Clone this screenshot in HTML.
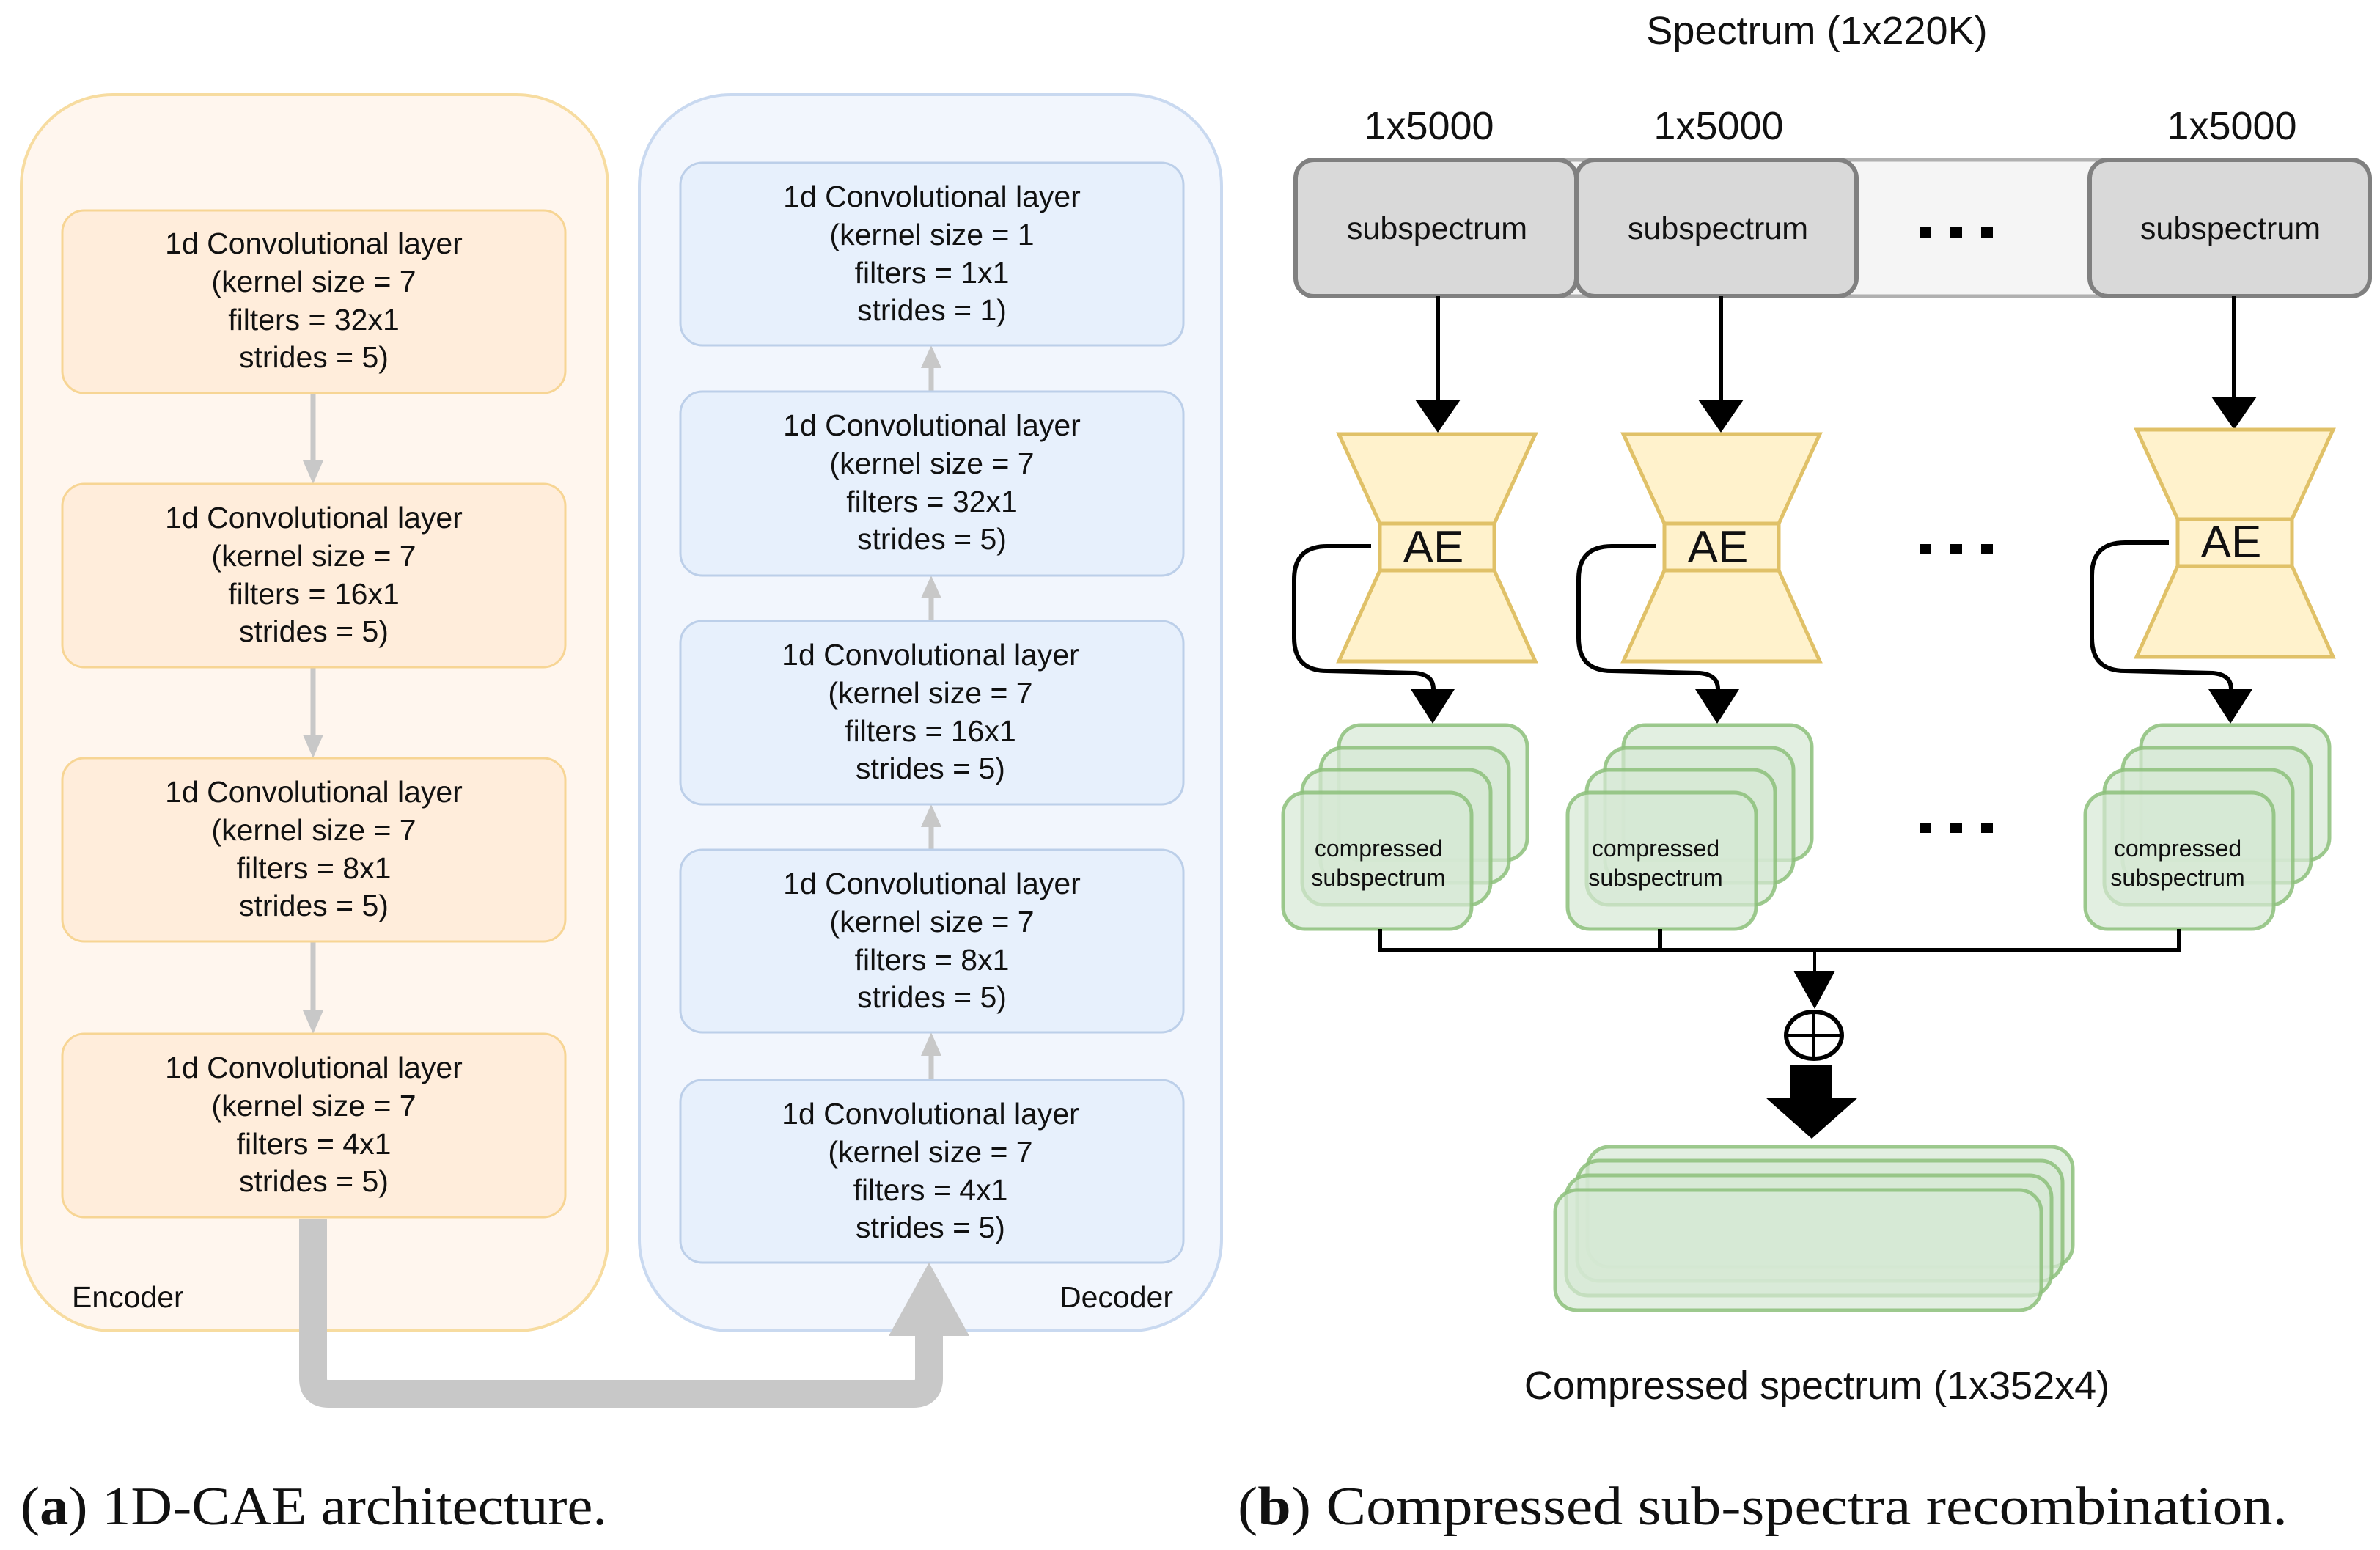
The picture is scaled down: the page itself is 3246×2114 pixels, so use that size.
<!DOCTYPE html>
<html><head><meta charset="utf-8"><style>
html,body{margin:0;padding:0;background:#fff}
svg{display:block}
text{font-family:"Liberation Sans",sans-serif;fill:#111}
text.serif{font-family:"Liberation Serif",serif}
</style></head><body>
<svg width="3246" height="2114" viewBox="0 0 3246 2114" xmlns="http://www.w3.org/2000/svg">
<rect x="29" y="129" width="800" height="1686" rx="125" fill="#fff6ee" stroke="#f7dca0" stroke-width="4"/>
<rect x="872" y="129" width="794" height="1686" rx="125" fill="#f2f6fd" stroke="#c9d9f0" stroke-width="4"/>

<g stroke="#c8c8c8" stroke-width="7" fill="#c8c8c8">
<line x1="427" y1="536" x2="427" y2="630"/><polygon points="413,628 441,628 427,660" stroke="none"/>
<line x1="427" y1="910" x2="427" y2="1004"/><polygon points="413,1002 441,1002 427,1034" stroke="none"/>
<line x1="427" y1="1284" x2="427" y2="1380"/><polygon points="413,1378 441,1378 427,1410" stroke="none"/>
<line x1="1270" y1="534" x2="1270" y2="500"/><polygon points="1256,502 1284,502 1270,471" stroke="none"/>
<line x1="1270" y1="847" x2="1270" y2="815"/><polygon points="1256,816 1284,816 1270,785" stroke="none"/>
<line x1="1270" y1="1159" x2="1270" y2="1128"/><polygon points="1256,1128 1284,1128 1270,1097" stroke="none"/>
<line x1="1270" y1="1473" x2="1270" y2="1440"/><polygon points="1256,1440 1284,1440 1270,1408" stroke="none"/>
</g>

<g fill="#ffeddb" stroke="#f7d594" stroke-width="3">
<rect x="85" y="287" width="686" height="249" rx="30"/>
<rect x="85" y="660" width="686" height="250" rx="30"/>
<rect x="85" y="1034" width="686" height="250" rx="30"/>
<rect x="85" y="1410" width="686" height="250" rx="30"/>
</g>
<g fill="#e7f0fc" stroke="#bccfe9" stroke-width="3">
<rect x="928" y="222" width="686" height="249" rx="30"/>
<rect x="928" y="534" width="686" height="251" rx="30"/>
<rect x="928" y="847" width="686" height="250" rx="30"/>
<rect x="928" y="1159" width="686" height="249" rx="30"/>
<rect x="928" y="1473" width="686" height="249" rx="30"/>
</g>

<g font-size="41" text-anchor="middle">
<text x="428" y="346">1d Convolutional layer</text><text x="428" y="398">(kernel size = 7</text><text x="428" y="450">filters = 32x1</text><text x="428" y="501">strides = 5)</text>
<text x="428" y="720">1d Convolutional layer</text><text x="428" y="772">(kernel size = 7</text><text x="428" y="824">filters = 16x1</text><text x="428" y="875">strides = 5)</text>
<text x="428" y="1094">1d Convolutional layer</text><text x="428" y="1146">(kernel size = 7</text><text x="428" y="1198">filters = 8x1</text><text x="428" y="1249">strides = 5)</text>
<text x="428" y="1470">1d Convolutional layer</text><text x="428" y="1522">(kernel size = 7</text><text x="428" y="1574">filters = 4x1</text><text x="428" y="1625">strides = 5)</text>

<text x="1271" y="282">1d Convolutional layer</text><text x="1271" y="334">(kernel size = 1</text><text x="1271" y="386">filters = 1x1</text><text x="1271" y="437">strides = 1)</text>
<text x="1271" y="594">1d Convolutional layer</text><text x="1271" y="646">(kernel size = 7</text><text x="1271" y="698">filters = 32x1</text><text x="1271" y="749">strides = 5)</text>
<text x="1269" y="907">1d Convolutional layer</text><text x="1269" y="959">(kernel size = 7</text><text x="1269" y="1011">filters = 16x1</text><text x="1269" y="1062">strides = 5)</text>
<text x="1271" y="1219">1d Convolutional layer</text><text x="1271" y="1271">(kernel size = 7</text><text x="1271" y="1323">filters = 8x1</text><text x="1271" y="1374">strides = 5)</text>
<text x="1269" y="1533">1d Convolutional layer</text><text x="1269" y="1585">(kernel size = 7</text><text x="1269" y="1637">filters = 4x1</text><text x="1269" y="1688">strides = 5)</text>
</g>
<text x="98" y="1783" font-size="41">Encoder</text>
<text x="1600" y="1783" font-size="41" text-anchor="end">Decoder</text>

<path d="M427,1662 L427,1880 Q427,1901 448,1901 L1246,1901 Q1267,1901 1267,1880 L1267,1815" fill="none" stroke="#c8c8c8" stroke-width="38"/>
<polygon points="1212,1822 1322,1822 1267,1722" fill="#c8c8c8"/>

<text class="serif" x="28" y="2079" font-size="74" textLength="800" lengthAdjust="spacingAndGlyphs">(<tspan font-weight="bold">a</tspan>) 1D-CAE architecture.</text>
<text class="serif" x="1688" y="2079" font-size="74" textLength="1432" lengthAdjust="spacingAndGlyphs">(<tspan font-weight="bold">b</tspan>) Compressed sub-spectra recombination.</text>

<g transform="translate(-6,0)">
<text x="2484" y="60" font-size="54" text-anchor="middle">Spectrum (1x220K)</text>
<g font-size="54" text-anchor="middle">
<text x="1955" y="190">1x5000</text><text x="2350" y="190">1x5000</text><text x="3050" y="190">1x5000</text>
</g>
<rect x="1773" y="218" width="1465" height="186" rx="25" fill="#f5f5f5" stroke="#b0b0b0" stroke-width="5"/>
<g fill="#d9d9d9" stroke="#808080" stroke-width="6">
<rect x="1773" y="218" width="383" height="186" rx="25"/>
<rect x="2156" y="218" width="382" height="186" rx="25"/>
<rect x="2856" y="218" width="382" height="186" rx="25"/>
</g>
<g font-size="43" text-anchor="middle">
<text x="1966" y="326">subspectrum</text><text x="2349" y="326">subspectrum</text><text x="3048" y="326">subspectrum</text>
</g>
<g fill="#000">
<rect x="2624" y="310" width="16" height="14"/><rect x="2666" y="310" width="16" height="14"/><rect x="2708" y="310" width="16" height="14"/>
<rect x="2624" y="742" width="16" height="14"/><rect x="2666" y="742" width="16" height="14"/><rect x="2708" y="742" width="16" height="14"/>
<rect x="2624" y="1122" width="16" height="14"/><rect x="2666" y="1122" width="16" height="14"/><rect x="2708" y="1122" width="16" height="14"/>
</g>

<g stroke="#000" stroke-width="6">
<line x1="1967" y1="404" x2="1967" y2="560"/><line x1="2353" y1="404" x2="2353" y2="560"/><line x1="3053" y1="404" x2="3053" y2="556"/>
</g>
<g fill="#000">
<polygon points="1936,545 1998,545 1967,590"/>
<polygon points="2322,545 2384,545 2353,590"/>
<polygon points="3022,541 3084,541 3053,586"/>
</g>

<g fill="#fff2cc" stroke="#e0c168" stroke-width="5">
<polygon points="1832,592 2100,592 2044,714 1888,714"/><rect x="1888" y="714" width="156" height="64"/><polygon points="1888,778 2044,778 2100,902 1832,902"/>
<polygon points="2220,592 2488,592 2432,714 2276,714"/><rect x="2276" y="714" width="156" height="64"/><polygon points="2276,778 2432,778 2488,902 2220,902"/>
<polygon points="2920,586 3188,586 3132,708 2976,708"/><rect x="2976" y="708" width="156" height="64"/><polygon points="2976,772 3132,772 3188,896 2920,896"/>
</g>
<g font-size="62" text-anchor="middle">
<text x="1961" y="767">AE</text><text x="2349" y="767">AE</text><text x="3049" y="760">AE</text>
</g>

<g fill="none" stroke="#000" stroke-width="6">
<path d="M1876,745 L1816,745 Q1771,745 1771,790 L1771,870 Q1771,915 1816,915 L1936,918 Q1961,920 1961,940 L1961,960"/>
<path d="M2264,745 L2204,745 Q2159,745 2159,790 L2159,870 Q2159,915 2204,915 L2324,918 Q2349,920 2349,940 L2349,960"/>
<path d="M2964,740 L2904,740 Q2859,740 2859,785 L2859,870 Q2859,915 2904,915 L3024,918 Q3049,920 3049,940 L3049,960"/>
</g>
<g fill="#000">
<polygon points="1930,940 1990,940 1960,987"/>
<polygon points="2318,940 2378,940 2348,987"/>
<polygon points="3018,940 3078,940 3048,987"/>
</g>

<g fill="#d5e8d4" fill-opacity="0.7" stroke="#8cc07a" stroke-width="5" stroke-opacity="0.85">
<rect x="1832" y="989" width="257" height="184" rx="30"/><rect x="1807" y="1020" width="257" height="184" rx="30"/><rect x="1782" y="1050" width="257" height="184" rx="30"/><rect x="1756" y="1081" width="257" height="186" rx="30"/>
<rect x="2220" y="989" width="257" height="184" rx="30"/><rect x="2195" y="1020" width="257" height="184" rx="30"/><rect x="2170" y="1050" width="257" height="184" rx="30"/><rect x="2144" y="1081" width="257" height="186" rx="30"/>
<rect x="2926" y="989" width="257" height="184" rx="30"/><rect x="2901" y="1020" width="257" height="184" rx="30"/><rect x="2876" y="1050" width="257" height="184" rx="30"/><rect x="2850" y="1081" width="257" height="186" rx="30"/>
</g>
<g font-size="32" text-anchor="middle">
<text x="1886" y="1168">compressed</text><text x="1886" y="1208">subspectrum</text>
<text x="2264" y="1168">compressed</text><text x="2264" y="1208">subspectrum</text>
<text x="2976" y="1168">compressed</text><text x="2976" y="1208">subspectrum</text>
</g>

<g stroke="#000" fill="none">
<path d="M1888,1267 L1888,1296 L2978,1296 L2978,1267" stroke-width="6"/>
<line x1="2270" y1="1267" x2="2270" y2="1296" stroke-width="6"/>
<line x1="2481" y1="1296" x2="2481" y2="1350" stroke-width="4"/>
<ellipse cx="2480" cy="1412" rx="38" ry="32" stroke-width="6"/>
<line x1="2480" y1="1380" x2="2480" y2="1444" stroke-width="4"/>
<line x1="2442" y1="1412" x2="2518" y2="1412" stroke-width="4"/>
</g>
<polygon points="2452,1324 2509,1324 2481,1376" fill="#000"/>
<polygon points="2448,1453 2505,1453 2505,1497 2540,1497 2477,1553 2414,1497 2448,1497" fill="#000"/>

<g fill="#d5e8d4" fill-opacity="0.7" stroke="#8cc07a" stroke-width="5" stroke-opacity="0.85">
<rect x="2171" y="1564" width="662" height="164" rx="30"/><rect x="2157" y="1583" width="662" height="164" rx="30"/><rect x="2142" y="1603" width="662" height="164" rx="30"/><rect x="2127" y="1623" width="663" height="164" rx="30"/>
</g>
<text x="2484" y="1908" font-size="54" text-anchor="middle">Compressed spectrum (1x352x4)</text>
</g>
</svg>
</body></html>
